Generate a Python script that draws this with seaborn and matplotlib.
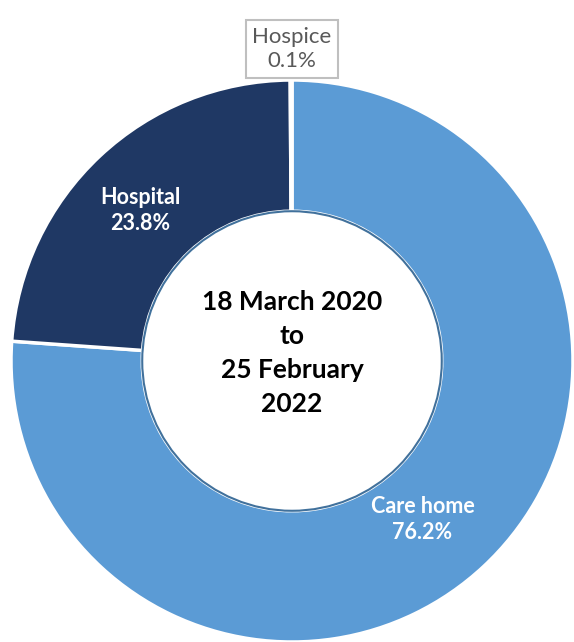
# import the modules
import matplotlib
matplotlib.use("Agg")
import matplotlib.pyplot as plt
import seaborn as sns
import numpy as np

# data
places = ["Care home", "Hospital", "Hospice"]
shares = [76.2, 23.8, 0.1]
centre_text = "18 March 2020\nto\n25 February\n2022"

sns.set_theme(style="white")
plt.rcParams['font.family'] = ['Lato', 'DejaVu Sans']

colours = sns.color_palette(["#5B9BD5", "#1F3864", "#FFFFFF"])

fig = plt.figure(figsize=(5.74, 6.42), dpi=100)
ax = fig.add_axes([0, 0, 1, 1])

# donut, clockwise from the top
wedges, texts = ax.pie(shares, colors=colours, startangle=90, counterclock=False,
                       radius=1, normalize=True,
                       wedgeprops=dict(width=0.467, edgecolor="white", linewidth=2.5))

# inner ring outline
ax.add_patch(plt.Circle((0, 0), 0.533, facecolor="white", edgecolor="#41719C", linewidth=1.5))

# labels for the two big slices
labels = [f"{p}\n{s:.1f}%" for p, s in zip(places, shares)]
dists = [0.73, 0.76]
shifts = [-3.5, 2.0]  # small nudge of the label angle, degrees
for w, lab, d, s in zip(wedges[:2], labels[:2], dists, shifts):
    ang = np.deg2rad((w.theta1 + w.theta2) / 2 + s)
    ax.text(d * np.cos(ang), d * np.sin(ang), lab, ha="center", va="center",
            color="white", fontsize=15.5, fontweight="bold", linespacing=1.3)

# the tiny hospice slice gets a boxed label above the ring
ax.text(0, 1.11, labels[2], ha="center", va="center", color="#595959", fontsize=16,
        linespacing=1.3,
        bbox=dict(boxstyle="square,pad=0.3", facecolor="white", edgecolor="#BFBFBF", linewidth=1.5))

ax.text(0, 0.03, centre_text, ha="center", va="center", fontsize=19, fontweight="bold",
        color="black", linespacing=1.5)

# map the data so the ring sits where it does in the original
ax.set_aspect("auto")
ax.set_xlim(-292 / 281, (574 - 292) / 281)
ax.set_ylim(-(642 - 361) / 281, 361 / 281)
ax.axis("off")

plt.savefig("out.png", dpi=100)
